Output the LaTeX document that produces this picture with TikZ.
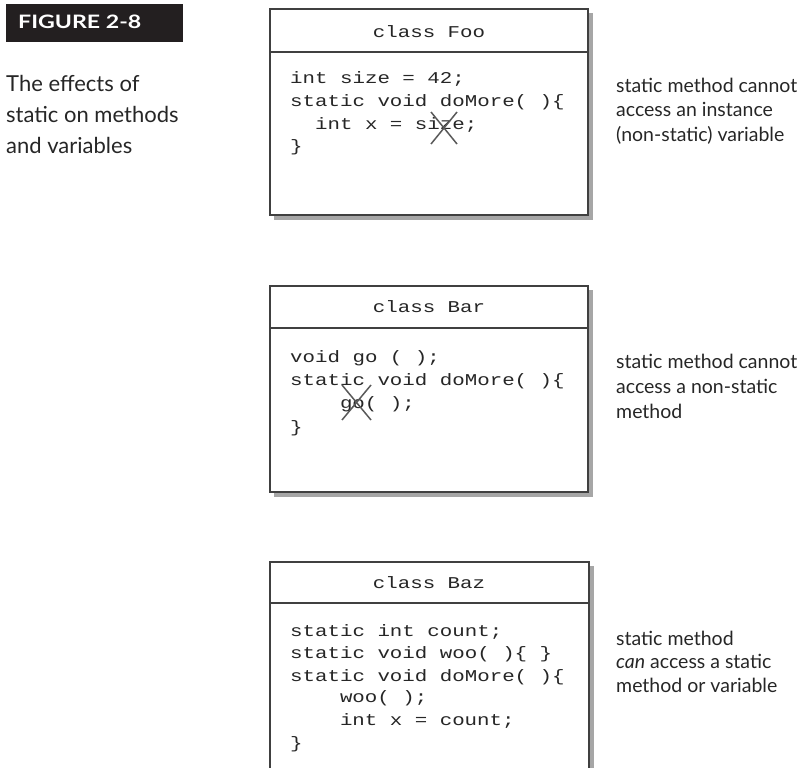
\documentclass[tikz,border=0pt]{standalone}
\usepackage{fontspec}
\setmainfont{Lato}
\newfontfamily\codefont[FakeStretch=1.26]{Liberation Mono}
\newfontfamily\figfont[FakeStretch=1.25]{Lato}
\definecolor{figdark}{HTML}{231F20}
\definecolor{inkc}{HTML}{262626}
\begin{document}
\begin{tikzpicture}[x=1pt,y=-1pt,
  code/.style={anchor=base west, inner sep=0pt, font=\codefont\fontsize{16.5}{22}\selectfont, text=inkc},
  hdr/.style={anchor=base, inner sep=0pt, font=\codefont\fontsize{16.5}{22}\selectfont, text=inkc},
  note/.style={anchor=base west, inner sep=0pt, font=\fontsize{19.5}{22}\selectfont, text=inkc},
  caption/.style={anchor=base west, inner sep=0pt, font=\fontsize{22}{26}\selectfont, text=inkc},
  classbox/.style={draw=black!75, line width=1.5pt, fill=white},
  shadowbox/.style={fill=black!35, draw=none},
  divider/.style={draw=black!75, line width=1.5pt},
  cross/.style={draw=black!65, line width=1.5pt}]
\useasboundingbox (0,0) rectangle (799,767);

% figure label
\fill[figdark] (6,4) rectangle (183,42);
\node[anchor=base west, inner sep=0pt, font=\figfont\bfseries\fontsize{18.5}{20}\selectfont, text=white] (fig) at (18,29) {FIGURE 2-8};
\node[caption] (cap1) at (6,92) {The effects of};
\node[caption] (cap2) at (6,123) {static on methods};
\node[caption] (cap3) at (6,154) {and variables};

% ---------- class Foo ----------
\fill[shadowbox] (274,13) rectangle (593,220);
\draw[classbox] (270,9) rectangle (588,215);
\draw[divider] (270,52) -- (588,52);
\node[hdr] (foohdr) at (429,38) {class Foo};
\node[code] (foo1) at (290,84) {int size = 42;};
\node[code] (foo2) at (290,107) {static void doMore( )\{};
\node[code] (foo3) at (290,130) {\hspace*{24.9pt}int x = size;};
\node[code] (foo4) at (290,152) {\}};
\draw[cross] (431,112) -- (457,144);
\draw[cross] (457,112) -- (431,144);
\node[note] (foon1) at (616,93) {static method cannot};
\node[note] (foon2) at (616,117) {access an instance};
\node[note] (foon3) at (616,142) {(non-static) variable};

% ---------- class Bar ----------
\fill[shadowbox] (274,290) rectangle (593,497);
\draw[classbox] (270,286) rectangle (588,492);
\draw[divider] (270,328) -- (588,328);
\node[hdr] (barhdr) at (429,312) {class Bar};
\node[code] (bar1) at (290,362) {void go ( );};
\node[code] (bar2) at (290,385) {static void doMore( )\{};
\node[code] (bar3) at (290,408) {\hspace*{49.8pt}go( );};
\node[code] (bar4) at (290,432) {\}};
\draw[cross] (342,385) -- (371,420);
\draw[cross] (371,385) -- (342,420);
\node[note] (barn1) at (616,368) {static method cannot};
\node[note] (barn2) at (616,393) {access a non-static};
\node[note] (barn3) at (616,418) {method};

% ---------- class Baz ----------
\fill[shadowbox] (274,566) rectangle (594,800);
\draw[classbox] (270,562) rectangle (589,795);
\draw[divider] (270,603) -- (589,603);
\node[hdr] (bazhdr) at (429,588) {class Baz};
\node[code] (baz1) at (290,636) {static int count;};
\node[code] (baz2) at (290,658) {static void woo( )\{ \}};
\node[code] (baz3) at (290,681) {static void doMore( )\{};
\node[code] (baz4) at (290,702) {\hspace*{49.8pt}woo( );};
\node[code] (baz5) at (290,725) {\hspace*{49.8pt}int x = count;};
\node[code] (baz6) at (290,748) {\}};
\node[note] (bazn1) at (616,645) {static method};
\node[note] (bazn2) at (616,668) {\textit{can} access a static};
\node[note] (bazn3) at (616,692) {method or variable};
\end{tikzpicture}
\end{document}
